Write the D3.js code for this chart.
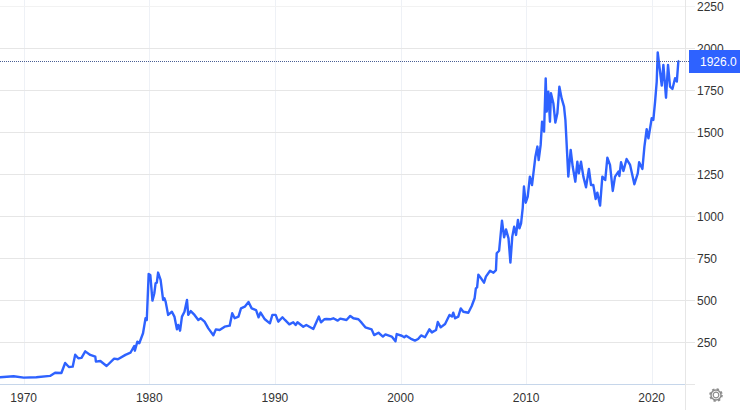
<!DOCTYPE html>
<html><head><meta charset="utf-8">
<script src="https://cdn.jsdelivr.net/npm/d3@7"></script>
<style>html,body{margin:0;padding:0;background:#fff}svg{display:block}text{font-family:"Liberation Sans",Arial,sans-serif}</style>
</head><body><svg id="c" width="740" height="410"></svg>
<script>
const years=[1968.1,1969.2,1970.0,1971.0,1972.1,1972.5,1973.0,1973.3,1973.6,1973.9,1974.1,1974.35,1974.6,1974.9,1975.3,1975.7,1975.75,1976.1,1976.6,1977.2,1977.5,1978.1,1978.5,1978.8,1978.85,1979.05,1979.2,1979.5,1979.7,1979.8,1979.95,1980.08,1980.25,1980.4,1980.5,1980.6,1980.7,1980.9,1981.1,1981.2,1981.3,1981.5,1981.8,1982.0,1982.2,1982.3,1982.45,1982.6,1982.8,1983.0,1983.1,1983.3,1983.6,1983.9,1984.1,1984.4,1984.7,1985.1,1985.3,1985.6,1986.0,1986.4,1986.6,1986.8,1987.1,1987.3,1987.6,1987.9,1988.15,1988.5,1988.7,1988.86,1989.2,1989.6,1989.8,1990.06,1990.27,1990.6,1990.8,1991.15,1991.46,1991.65,1991.8,1992.26,1992.5,1993.06,1993.5,1993.67,1993.93,1994.1,1994.4,1994.65,1995,1995.2,1995.7,1996,1996.25,1996.65,1996.9,1997.2,1997.45,1997.7,1997.9,1998.25,1998.6,1998.8,1999.3,1999.6,1999.7,2000.1,2000.3,2000.45,2000.8,2001.15,2001.4,2001.64,2001.95,2002.3,2002.5,2002.83,2002.97,2003.2,2003.55,2003.9,2004.1,2004.2,2004.35,2004.6,2004.8,2005,2005.4,2005.67,2005.9,2006,2006.1,2006.2,2006.47,2006.65,2006.8,2007.13,2007.4,2007.6,2007.66,2007.85,2008.08,2008.25,2008.4,2008.6,2008.75,2008.9,2009.05,2009.2,2009.35,2009.47,2009.6,2009.73,2009.83,2009.97,2010.13,2010.3,2010.47,2010.74,2010.9,2011,2011.16,2011.27,2011.43,2011.56,2011.64,2011.77,2011.9,2011.98,2012.17,2012.33,2012.49,2012.65,2012.83,2013.02,2013.13,2013.36,2013.55,2013.71,2013.92,2014.08,2014.2,2014.37,2014.56,2014.77,2015.0,2015.17,2015.35,2015.54,2015.67,2015.89,2016.07,2016.3,2016.47,2016.68,2016.9,2017.08,2017.35,2017.43,2017.56,2017.75,2018.0,2018.28,2018.62,2018.89,2019.0,2019.26,2019.42,2019.6,2019.74,2020.0,2020.13,2020.27,2020.4,2020.48,2020.6,2020.8,2020.93,2021.14,2021.3,2021.46,2021.65,2021.86,2022,2022.12,2022.2];
const prices=[42,48,40,42,50,69,67,127,103,105,176,155,157,196,175,165,135,139,109,153,149,175,188,228,200,254,244,304,393,383,657,651,498,542,601,605,665,621,502,512,492,413,432,403,327,353,319,403,432,502,413,436,413,383,393,373,333,292,327,323,343,349,423,393,403,452,462,490,452,442,399,427,387,363,413,413,373,399,383,357,369,353,369,343,353,329,403,369,387,389,387,393,379,391,383,407,393,387,367,339,333,327,293,307,284,297,284,256,299,289,280,289,272,260,270,291,280,327,309,323,371,339,359,413,403,426,393,403,452,432,426,466,512,571,577,653,625,605,641,676,664,680,780,795,974,875,922,869,724,879,938,889,978,928,958,1048,1177,1081,1117,1236,1186,1355,1415,1335,1425,1563,1504,1821,1623,1742,1563,1732,1673,1558,1613,1772,1702,1653,1573,1236,1395,1296,1206,1325,1256,1325,1236,1173,1282,1186,1186,1103,1141,1064,1236,1216,1349,1306,1151,1236,1266,1240,1322,1270,1341,1306,1191,1256,1322,1282,1415,1518,1464,1584,1574,1683,1802,1976,1901,1778,1901,1706,1901,1772,1758,1822,1802,1921,1926];
const yTicks=[250,500,750,1000,1250,1500,1750,2000,2250];
const xTicks=[1970,1980,1990,2000,2010,2020];
const lastLabel="1926.0";

const svg=d3.select("#c");
const x=d3.scaleLinear([1970,2020],[23.7,651.7]);
const y=d3.scaleLinear([0,2250],[384.3,6.3]);
const rightX=685.5,W=740;
const g=svg.append("g").attr("shape-rendering","crispEdges");
g.selectAll(".v").data(xTicks).join("line").attr("x1",d=>Math.round(x(d))+.5).attr("x2",d=>Math.round(x(d))+.5).attr("y1",0).attr("y2",384).attr("stroke","#eef1f6");
g.selectAll(".h").data(yTicks).join("line").attr("x1",0).attr("x2",695).attr("y1",d=>Math.round(y(d))+.5).attr("y2",d=>Math.round(y(d))+.5).attr("stroke",d=>d===2250?"#f2f2f2":"#e6e6e6");
g.append("line").attr("x1",0).attr("x2",rightX).attr("y1",384.5).attr("y2",384.5).attr("stroke","#c6d6ea");
g.append("line").attr("x1",rightX).attr("x2",695).attr("y1",384.5).attr("y2",384.5).attr("stroke","#e6e6e6");
g.append("line").attr("x1",rightX).attr("x2",rightX).attr("y1",0).attr("y2",410).attr("stroke","#e6e6e6");

svg.selectAll(".xl").data(xTicks).join("text").attr("x",d=>x(d)).attr("y",402).attr("text-anchor","middle").attr("font-size",12).attr("fill","#333").text(d=>d);
svg.selectAll(".yl").data(yTicks).join("text").attr("x",697).attr("y",d=>y(d)+5).attr("font-size",12).attr("fill","#333").text(d=>d);

const line=d3.line().x((d,i)=>x(years[i])).y(d=>y(d));
svg.append("path").attr("d",line(prices)).attr("fill","none").attr("stroke","#2e62ff").attr("stroke-width",2.4).attr("stroke-linejoin","round");

const last=prices[prices.length-1];
const ly=Math.round(y(last))+.5;
svg.append("line").attr("x1",0).attr("x2",689).attr("y1",ly).attr("y2",ly).attr("stroke","#4a5f94").attr("stroke-dasharray","1 1");
svg.append("rect").attr("x",689).attr("y",ly-11.5).attr("width",W-689).attr("height",23).attr("fill","#2e62ff");
svg.append("text").attr("x",700).attr("y",ly+4.5).attr("font-size",12).attr("fill","#fff").text(lastLabel);

// settings gear
const gear=svg.append("g").attr("transform","translate(716,395)").attr("fill","none").attr("stroke","#8c8c8c");
gear.append("circle").attr("r",2.8).attr("stroke-width",1.2);
gear.append("circle").attr("r",5).attr("stroke-width",1.4);
gear.append("circle").attr("r",6).attr("stroke-width",1.6).attr("stroke-dasharray","2.4 2.3");
</script></body></html>
